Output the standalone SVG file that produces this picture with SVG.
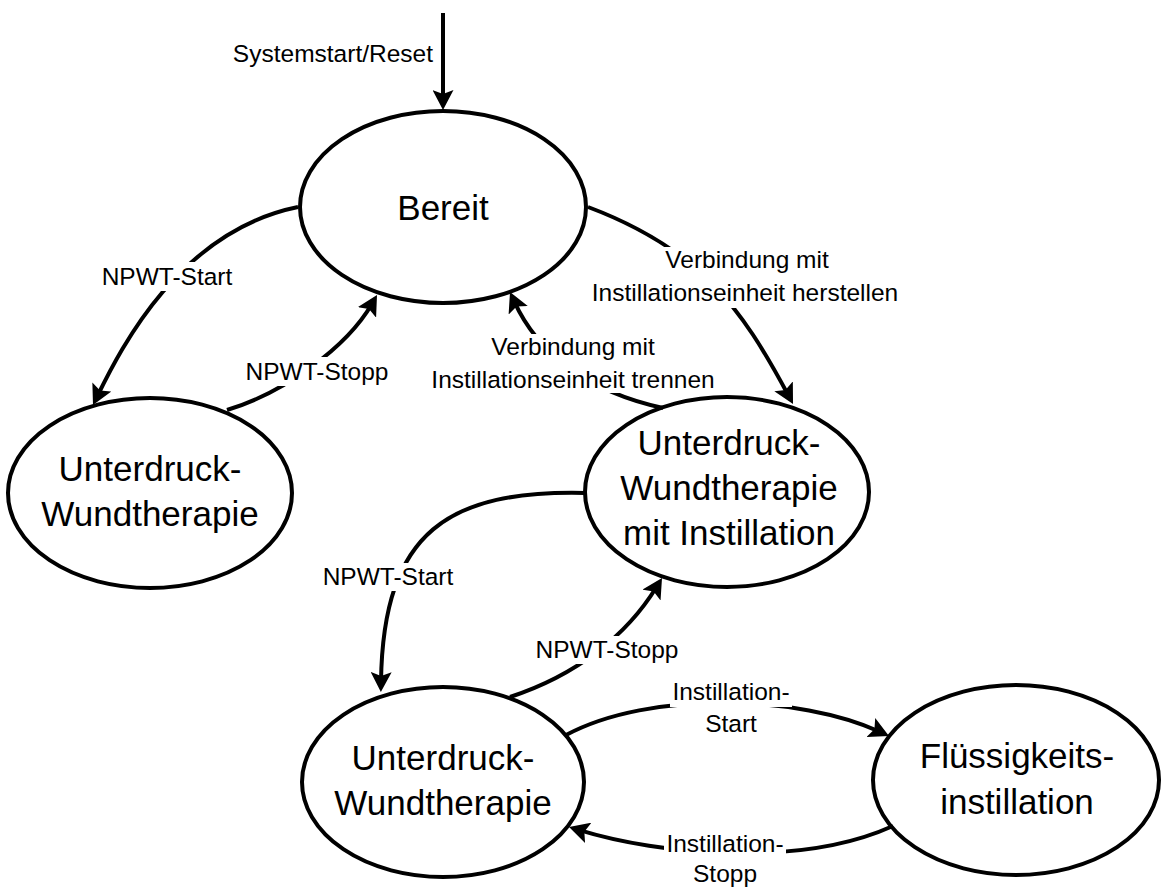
<svg xmlns="http://www.w3.org/2000/svg" width="1161" height="890" viewBox="0 0 1161 890">
<style>
.node{fill:#fff;stroke:#000;stroke-width:4}
.nt{font-family:"Liberation Sans",Arial,sans-serif;font-size:35px;fill:#000;text-anchor:middle}
.edge{fill:none;stroke:#000;stroke-width:4;marker-end:url(#arr)}
.lt{font-family:"Liberation Sans",Arial,sans-serif;font-size:24.5px;fill:#000;text-anchor:middle}
.bg{fill:#fff;stroke:none}
</style>
<defs>
<marker id="arr" markerUnits="userSpaceOnUse" markerWidth="20" markerHeight="21" viewBox="0 0 20 21" refX="10" refY="10.5" orient="auto">
<path d="M0,0 L20,10.5 L0,21 L4,10.5 Z" fill="#000"/>
</marker>
</defs>
<rect width="1161" height="890" fill="#fff"/>
<g id="n-bereit"><ellipse class="node" cx="443" cy="207" rx="143" ry="96"/><text class="nt" x="443" y="220">Bereit</text></g>
<g id="n-npwt"><ellipse class="node" cx="150" cy="493" rx="142" ry="95"/><text class="nt" x="150" y="481">Unterdruck-</text><text class="nt" x="150" y="526">Wundtherapie</text></g>
<g id="n-npwti"><ellipse class="node" cx="727" cy="492" rx="142" ry="95"/><text class="nt" x="729" y="455">Unterdruck-</text><text class="nt" x="729" y="500">Wundtherapie</text><text class="nt" x="729" y="545">mit Instillation</text></g>
<g id="n-npwt2"><ellipse class="node" cx="443" cy="782" rx="141" ry="95"/><text class="nt" x="443" y="770">Unterdruck-</text><text class="nt" x="443" y="815">Wundtherapie</text></g>
<g id="n-fluid"><ellipse class="node" cx="1016" cy="780" rx="143" ry="95"/><text class="nt" x="1017" y="768">Flüssigkeits-</text><text class="nt" x="1017" y="814">instillation</text></g>
<g id="connectors">
<path class="edge" d="M443,13 L443,100"/>
<text class="lt" x="433" y="62" style="text-anchor:end">Systemstart/Reset</text>
<path class="edge" d="M298,207 C180.4,231 121.6,346.5 97.4,396"/>
<path class="edge" d="M227,410 C284.6,392.6 347,347 372,303.7"/>
<path class="edge" d="M588,207 C700,249 741,307 788.3,395.2"/>
<path class="edge" d="M663,408 C588.6,392 537.6,353.4 514.1,301.1"/>
<path class="edge" d="M585,493 C450,490 383,530 381,682"/>
<path class="edge" d="M510,697 C576,675.5 626.7,635.8 656.8,586.5"/>
<path class="edge" d="M566,735 C650,690 800,695 879.9,731.8"/>
<path class="edge" d="M893,826 C800,868 660,855 578.6,829.9"/>
<rect class="bg" x="99" y="262" width="136" height="29"/>
<text class="lt" x="167" y="285">NPWT-Start</text>
<rect class="bg" x="245" y="357" width="144" height="29"/>
<text class="lt" x="317" y="380">NPWT-Stopp</text>
<rect class="bg" x="662" y="247" width="170" height="29"/>
<rect class="bg" x="590" y="276" width="310" height="32"/>
<text class="lt" x="747" y="268">Verbindung mit</text>
<text class="lt" x="745" y="301">Instillationseinheit herstellen</text>
<rect class="bg" x="488" y="334" width="170" height="30"/>
<rect class="bg" x="429" y="364" width="288" height="29"/>
<text class="lt" x="573" y="355">Verbindung mit</text>
<text class="lt" x="573" y="388">Instillationseinheit trennen</text>
<rect class="bg" x="320" y="563" width="136" height="28"/>
<text class="lt" x="388" y="585">NPWT-Start</text>
<rect class="bg" x="535" y="636" width="144" height="28"/>
<text class="lt" x="607" y="658">NPWT-Stopp</text>
<rect class="bg" x="670" y="679" width="122" height="28"/>
<rect class="bg" x="702" y="707" width="58" height="31"/>
<text class="lt" x="731" y="700">Instillation-</text>
<text class="lt" x="731" y="732">Start</text>
<rect class="bg" x="664" y="831" width="122" height="27"/>
<rect class="bg" x="691" y="858" width="68" height="32"/>
<text class="lt" x="725" y="852">Instillation-</text>
<text class="lt" x="725" y="882">Stopp</text>
</g>
</svg>
